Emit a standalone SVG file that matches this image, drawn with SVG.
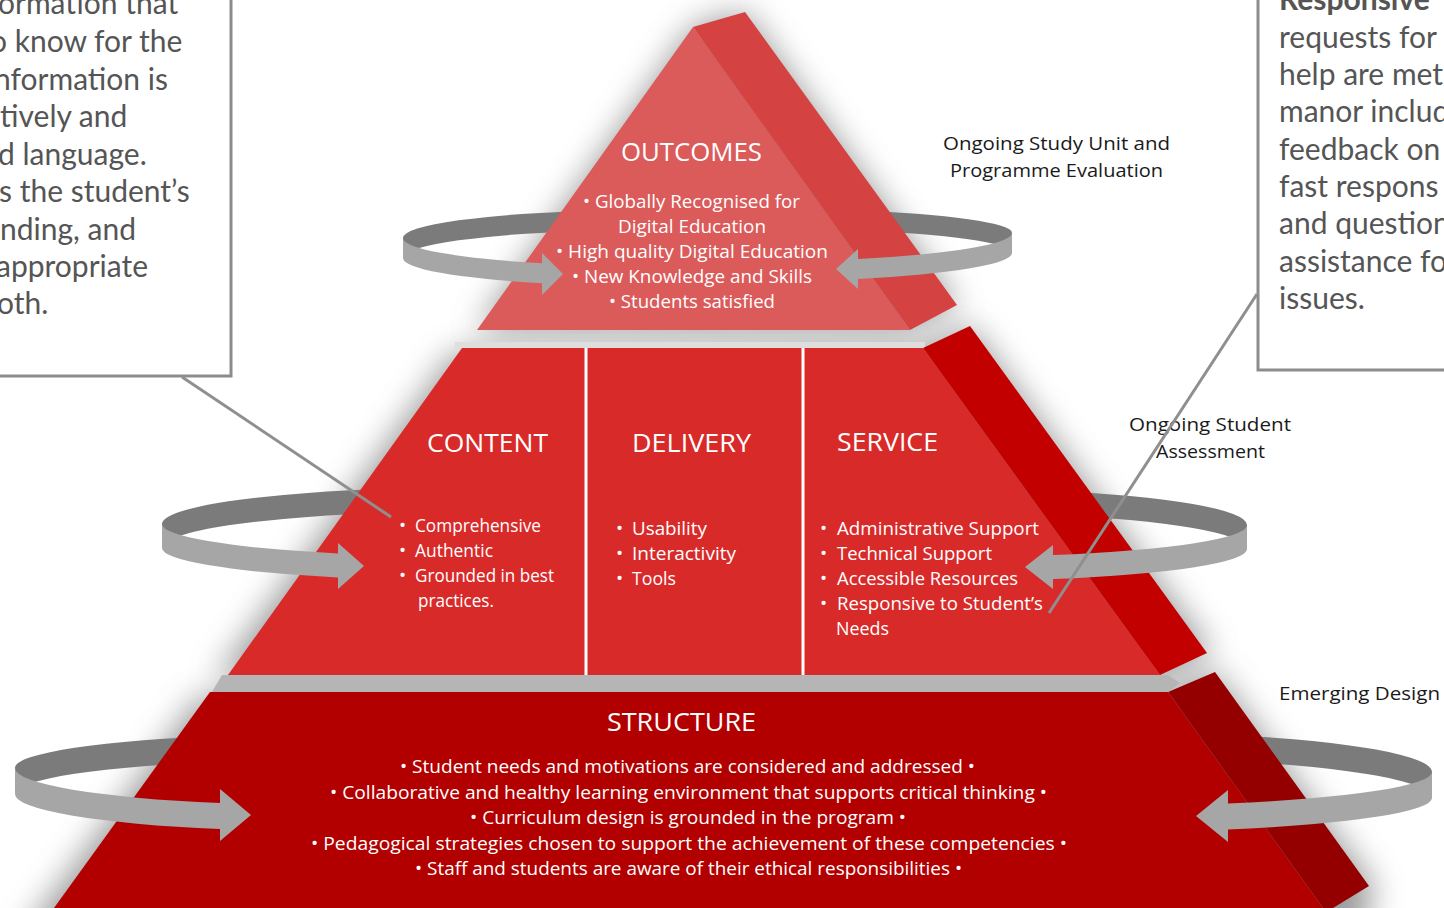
<svg xmlns="http://www.w3.org/2000/svg" width="1444" height="908" viewBox="0 0 1444 908">
<defs>
<filter id="blur" x="-20%" y="-20%" width="140%" height="140%"><feGaussianBlur stdDeviation="16"/></filter>
<style>
.sh{fill:#707070;opacity:.7;filter:url(#blur)}
.back{fill:#7b7b7b}
.front{fill:#a6a6a6}
.t1f{fill:#db5a5a}.t1s{fill:#d54242}
.t2f{fill:#d92a2a}.t2s{fill:#c30000}
.t3f{fill:#b20000}.t3s{fill:#940000}
.w{font-family:"Open Sans","Noto Sans",sans-serif;fill:#ffffff;font-size:19px}
.h{font-family:"Open Sans","Noto Sans",sans-serif;fill:#ffffff;font-size:25px}
.k{font-family:"Open Sans","Noto Sans",sans-serif;fill:#1a1a1a;font-size:19px}
.c{font-family:Lato,"Noto Sans",sans-serif;fill:#555555;font-size:30px}
.box{fill:#ffffff;stroke:#8c8c8c;stroke-width:3}
.ln{stroke:#8f8f8f;stroke-width:3;fill:none}
</style>
</defs>
<rect width="1444" height="908" fill="#ffffff"/>
<g id="shadows">
<polygon class="sh" points="693,27 745,12 957,305 910,330 477,330"/>
<polygon class="sh" points="455,352 923,348 970,326 1212,653 1160,680 215,680"/>
<polygon class="sh" points="200,697 1168,692 1215,672 1374,886 1360,940 20,940"/>
</g>
<g id="cycles-back">
<path class="back" d="M403,238 A247,28 0 0 1 600,210.6 L600,230.6 A247,28 0 0 0 403,258 Z"/>
<path class="back" d="M1012,233 A272,25 0 0 0 850,210 L850,230 A272,25 0 0 1 1012,253 Z"/>
<path class="back" d="M162,524 A318,37 0 0 1 400,488.2 L400,512.2 A318,37 0 0 0 162,548 Z"/>
<path class="back" d="M1247,525 A307,37 0 0 0 1050,490.5 L1050,514.5 A307,37 0 0 1 1247,549 Z"/>
<path class="back" d="M15,768 A305,34 0 0 1 230,735.5 L230,761.5 A305,34 0 0 0 15,794 Z"/>
<path class="back" d="M1432,772 A332,40 0 0 0 1230,735 L1230,761 A332,40 0 0 1 1432,798 Z"/>
</g>
<g id="tier-structure">
<polygon class="t3f" points="210,692 1168,692 1323,908 54,908"/>
<polygon class="t3s" points="1168,692 1215,672 1369,886 1333,908 1323,908"/>
</g>
<polygon points="222,675 1168,675 1180,683 1168,692 212,692" fill="#b5b5b5"/>
<rect x="455" y="342" width="470" height="6" fill="#dedede"/>
<g id="tier-middle">
<polygon class="t2f" points="462,348 923,348 1160,675 228,675"/>
<polygon class="t2s" points="923,348 970,326 1207,653 1160,675"/>
<rect x="584.5" y="348" width="3" height="327" fill="#ffffff"/>
<rect x="801.5" y="348" width="3" height="327" fill="#ffffff"/>
</g>
<g id="tier-outcomes">
<polygon class="t1f" points="693,27 910,330 477,330"/>
<polygon class="t1s" points="693,27 745,12 957,305 910,330"/>
</g>
<g id="cycles-front">
<path class="front" d="M403,238 A247,28 0 0 0 542,263.2 L542,253 L563,274 L542,295 L542,283.2 A247,28 0 0 1 403,258 Z"/>
<path class="front" d="M1012,233 A272,29 0 0 1 858,259 L858,249 L836,269 L858,289 L858,279 A272,29 0 0 0 1012,253 Z"/>
<path class="front" d="M162,524 A318,33 0 0 0 338,553.5 L338,543 L364,566 L338,589 L338,577.5 A318,33 0 0 1 162,548 Z"/>
<path class="front" d="M1247,525 A307,32 0 0 1 1053,555 L1053,545 L1025,567 L1053,589 L1053,579 A307,32 0 0 0 1247,549 Z"/>
<path class="front" d="M15,768 A305,37 0 0 0 220,803 L220,789 L251,815 L220,841 L220,829 A305,37 0 0 1 15,794 Z"/>
<path class="front" d="M1432,772 A332,34 0 0 1 1228,803.4 L1228,790 L1196,816 L1228,842 L1228,829.4 A332,34 0 0 0 1432,798 Z"/>
</g>
<g id="outcomes-text">
<text class="h" x="621" y="161" textLength="141" lengthAdjust="spacingAndGlyphs">OUTCOMES</text>
<text class="w" x="583" y="208" textLength="217" lengthAdjust="spacingAndGlyphs">• Globally Recognised for</text>
<text class="w" x="618" y="233" textLength="148" lengthAdjust="spacingAndGlyphs">Digital Education</text>
<text class="w" x="556" y="258" textLength="272" lengthAdjust="spacingAndGlyphs">• High quality Digital Education</text>
<text class="w" x="572" y="283" textLength="240" lengthAdjust="spacingAndGlyphs">• New Knowledge and Skills</text>
<text class="w" x="609" y="308" textLength="166" lengthAdjust="spacingAndGlyphs">• Students satisfied</text>
</g>
<g id="content">
<text class="h" x="427" y="452" textLength="121" lengthAdjust="spacingAndGlyphs">CONTENT</text>
<text class="w" x="399" y="532">•</text><text class="w" x="415" y="532" textLength="126" lengthAdjust="spacingAndGlyphs">Comprehensive</text>
<text class="w" x="399" y="557">•</text><text class="w" x="415" y="557" textLength="78" lengthAdjust="spacingAndGlyphs">Authentic</text>
<text class="w" x="399" y="582">•</text><text class="w" x="415" y="582" textLength="139" lengthAdjust="spacingAndGlyphs">Grounded in best</text>
<text class="w" x="418" y="607" textLength="76" lengthAdjust="spacingAndGlyphs">practices.</text>
</g>
<g id="delivery">
<text class="h" x="632" y="452" textLength="119" lengthAdjust="spacingAndGlyphs">DELIVERY</text>
<text class="w" x="616" y="535">•</text><text class="w" x="632" y="535" textLength="75" lengthAdjust="spacingAndGlyphs">Usability</text>
<text class="w" x="616" y="560">•</text><text class="w" x="632" y="560" textLength="104" lengthAdjust="spacingAndGlyphs">Interactivity</text>
<text class="w" x="616" y="585">•</text><text class="w" x="632" y="585" textLength="44" lengthAdjust="spacingAndGlyphs">Tools</text>
</g>
<g id="service">
<text class="h" x="837" y="451" textLength="101" lengthAdjust="spacingAndGlyphs">SERVICE</text>
<text class="w" x="820" y="535">•</text><text class="w" x="837" y="535" textLength="202" lengthAdjust="spacingAndGlyphs">Administrative Support</text>
<text class="w" x="820" y="560">•</text><text class="w" x="837" y="560" textLength="155" lengthAdjust="spacingAndGlyphs">Technical Support</text>
<text class="w" x="820" y="585">•</text><text class="w" x="837" y="585" textLength="181" lengthAdjust="spacingAndGlyphs">Accessible Resources</text>
<text class="w" x="820" y="610">•</text><text class="w" x="837" y="610" textLength="206" lengthAdjust="spacingAndGlyphs">Responsive to Student’s</text>
<text class="w" x="836" y="635" textLength="53" lengthAdjust="spacingAndGlyphs">Needs</text>
</g>
<g id="structure">
<text class="h" x="607" y="731" textLength="149" lengthAdjust="spacingAndGlyphs">STRUCTURE</text>
<text class="w" x="400" y="773" textLength="575" lengthAdjust="spacingAndGlyphs">• Student needs and motivations are considered and addressed •</text>
<text class="w" x="330" y="799" textLength="717" lengthAdjust="spacingAndGlyphs">• Collaborative and healthy learning environment that supports critical thinking •</text>
<text class="w" x="470" y="824" textLength="436" lengthAdjust="spacingAndGlyphs">• Curriculum design is grounded in the program •</text>
<text class="w" x="311" y="850" textLength="756" lengthAdjust="spacingAndGlyphs">• Pedagogical strategies chosen to support the achievement  of these competencies •</text>
<text class="w" x="415" y="875" textLength="547" lengthAdjust="spacingAndGlyphs">• Staff and students are aware of their ethical responsibilities •</text>
</g>
<g id="label-evaluation">
<text class="k" x="943" y="150" textLength="227" lengthAdjust="spacingAndGlyphs">Ongoing Study Unit and</text>
<text class="k" x="950" y="177" textLength="213" lengthAdjust="spacingAndGlyphs">Programme Evaluation</text>
</g>
<g id="label-assessment">
<text class="k" x="1129" y="431" textLength="162" lengthAdjust="spacingAndGlyphs">Ongoing Student</text>
<text class="k" x="1156" y="458" textLength="109" lengthAdjust="spacingAndGlyphs">Assessment</text>
</g>
<g id="label-design">
<text class="k" x="1279" y="700" textLength="161" lengthAdjust="spacingAndGlyphs">Emerging Design</text>
</g>
<g id="callout-left">
<rect class="box" x="-10" y="-10" width="241" height="386"/>
<text class="c" x="-2" y="14">ormation that</text>
<text class="c" x="-10" y="52">o know for the</text>
<text class="c" x="-6" y="90">nformation is</text>
<text class="c" x="0" y="127">tively and</text>
<text class="c" x="-2" y="165">d language.</text>
<text class="c" x="-1" y="202">s the student’s</text>
<text class="c" x="0" y="240">nding, and</text>
<text class="c" x="-4" y="277">appropriate</text>
<text class="c" x="-3" y="314">oth.</text>
</g>
<g id="callout-right">
<rect class="box" x="1258" y="-10" width="200" height="380"/>
<text class="c" x="1279" y="10" font-weight="bold">Responsive</text>
<text class="c" x="1279" y="48">requests for</text>
<text class="c" x="1279" y="85">help are met</text>
<text class="c" x="1279" y="122">manor includ</text>
<text class="c" x="1279" y="160">feedback on</text>
<text class="c" x="1279" y="197">fast respons</text>
<text class="c" x="1279" y="234">and question</text>
<text class="c" x="1279" y="272">assistance fo</text>
<text class="c" x="1279" y="309">issues.</text>
</g>
<g id="connectors">
<line class="ln" x1="182" y1="377" x2="391" y2="517"/>
<line class="ln" x1="1257" y1="294" x2="1049" y2="613"/>
</g>
</svg>
